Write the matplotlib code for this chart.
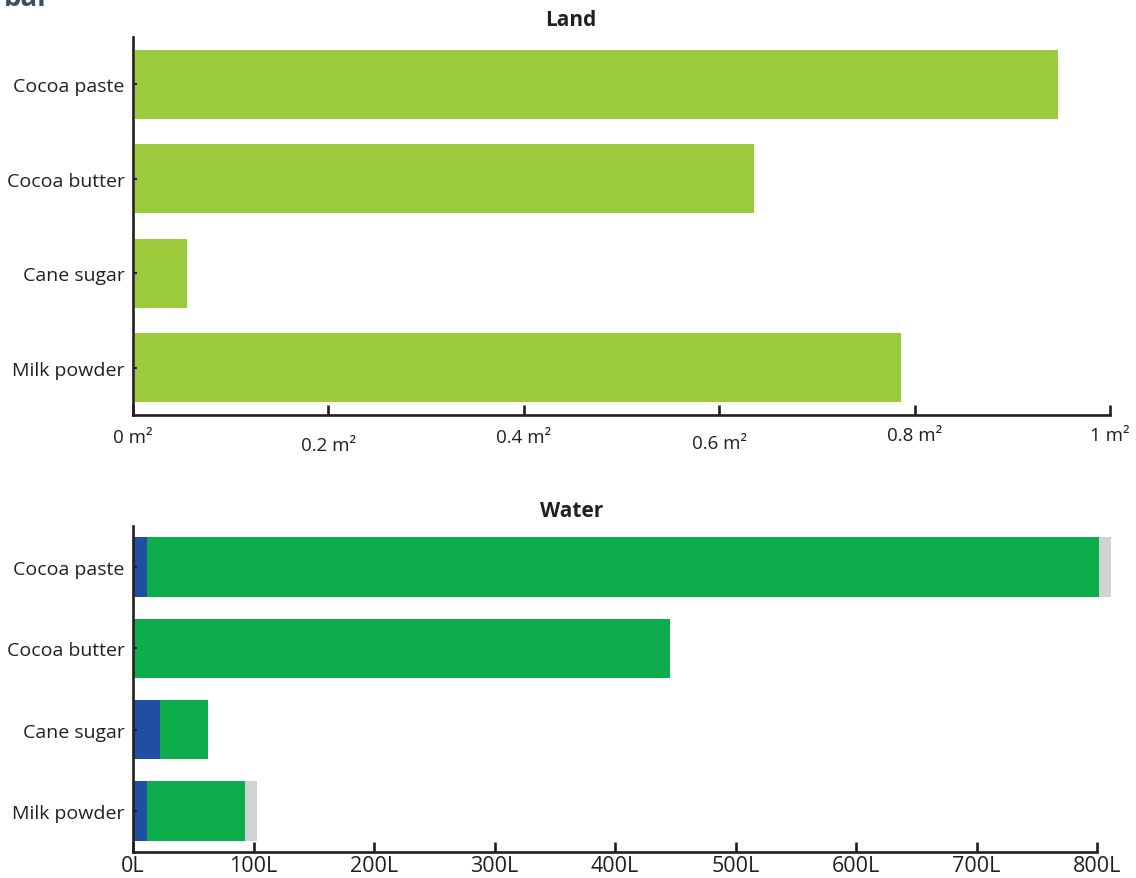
import matplotlib
matplotlib.use("Agg")
import matplotlib.pyplot as plt

plt.rcParams['font.family'] = ['Open Sans', 'DejaVu Sans']

# data
items = ["Cocoa paste", "Cocoa butter", "Cane sugar", "Milk powder"]
land = [0.945, 0.634, 0.053, 0.784]                 # m2
water_blue = [12, 0, 22, 12]                        # L
water_green = [790, 446, 40, 81]
water_grey = [10, 0, 0, 10]

land_ticks = [0, 0.2, 0.4, 0.6, 0.8, 1]
land_tick_labels = ["0 m²", "0.2 m²", "0.4 m²", "0.6 m²", "0.8 m²", "1 m²"]
land_label_drop = [5, 11, 5, 10, 4, 4]   # the labels are staggered in the original
water_ticks = [0, 100, 200, 300, 400, 500, 600, 700, 800]
water_tick_labels = ["0L", "100L", "200L", "300L", "400L", "500L", "600L", "700L", "800L"]

c_land = "#9BCA3C"
c_blue = "#1F4EA3"
c_green = "#0EAD4B"
c_grey = "#D1D2D4"
c_axis = "#231F20"
c_text = "#231F20"

fig = plt.figure(figsize=(11.36, 8.79), dpi=100)

ax1 = fig.add_axes([0.1171, 0.5267, 0.8600, 0.4301])
ax2 = fig.add_axes([0.1171, 0.0296, 0.8486, 0.3708])


def style(ax):
    for s in ["top", "right"]:
        ax.spines[s].set_visible(False)
    for s in ["left", "bottom"]:
        ax.spines[s].set_linewidth(1.9)
        ax.spines[s].set_color(c_axis)
    ax.tick_params(axis="x", direction="in", length=7, width=1.9, color=c_axis)
    ax.tick_params(axis="y", direction="in", length=3, width=1.5, color=c_axis,
                   labelsize=14, labelcolor=c_text, pad=6)
    ax.set_ylim(3.5, -0.5)
    ax.set_yticks(range(len(items)))
    ax.set_yticklabels(items)


# Land
y = range(len(items))
ax1.barh(y, land, height=0.73, color=c_land, left=0.002)
style(ax1)
ax1.set_xlim(0, 1)
ax1.set_xticks(land_ticks)
ax1.set_xticklabels([])
for v, lab, dy in zip(land_ticks, land_tick_labels, land_label_drop):
    ax1.annotate(lab, xy=(v, 0), xycoords=("data", "axes fraction"),
                 xytext=(0, -dy - 4), textcoords="offset points",
                 ha="center", va="top", fontsize=13.5, color=c_text)

# Water
left2 = [b + g for b, g in zip(water_blue, water_green)]
ax2.barh(y, water_blue, height=0.73, color=c_blue, clip_on=False)
ax2.barh(y, water_green, height=0.73, left=water_blue, color=c_green, clip_on=False)
ax2.barh(y, water_grey, height=0.73, left=left2, color=c_grey, clip_on=False)
style(ax2)
ax2.set_xlim(0, 800)
ax2.set_xticks(water_ticks)
ax2.set_xticklabels(water_tick_labels, fontsize=15.5, color=c_text)
ax2.tick_params(axis="x", pad=2)

fig.text(571 / 1136, 1 - 20 / 879, "Land", ha="center", va="center",
         fontsize=15, fontweight="bold", color=c_text)
fig.text(572 / 1136, 1 - 512 / 879, "Water", ha="center", va="center",
         fontsize=15, fontweight="bold", color=c_text)
# cut-off heading at the very top left
fig.text(4 / 1136, 1 - 6 / 879, "bar", ha="left", va="baseline",
         fontsize=20, fontweight="bold", color="#3D4F5C")

fig.savefig("out.png", dpi=100)
